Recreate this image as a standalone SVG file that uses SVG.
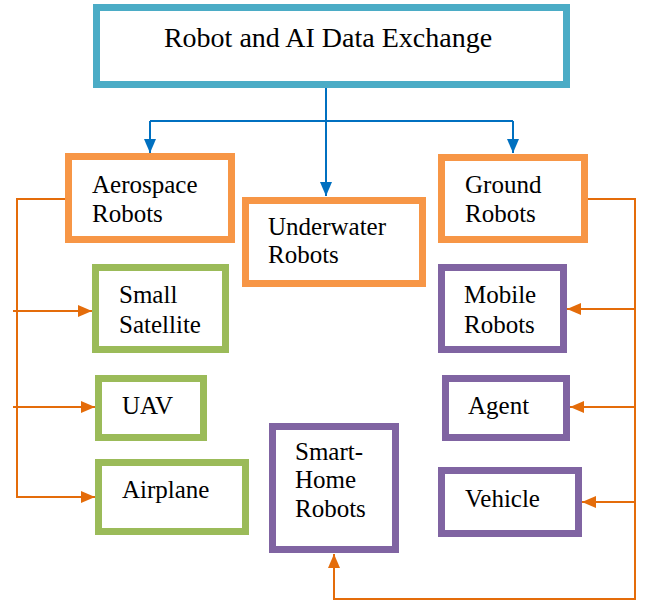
<svg xmlns="http://www.w3.org/2000/svg" width="645" height="602" viewBox="0 0 645 602">
<style>
text{font-family:'Liberation Serif','Times New Roman',Times,serif;font-size:25px;fill:#000}
.title{font-size:28px}
.box{fill:#fff;stroke-width:7}
.orange{stroke:#F79646}
.blue{stroke:#4BACC6}
.green{stroke:#9BBB59}
.purple{stroke:#8064A2}
.cb{fill:none;stroke:#0070C0;stroke-width:2}
.co{fill:none;stroke:#E46C0A;stroke-width:2}
</style>
<defs>
<marker id="ab" markerUnits="userSpaceOnUse" markerWidth="14" markerHeight="14" refX="14" refY="7" orient="auto">
<path d="M0,1 L14,7 L0,13 Z" fill="#0070C0"/>
</marker>
<marker id="ao" markerUnits="userSpaceOnUse" markerWidth="14" markerHeight="14" refX="14" refY="7" orient="auto">
<path d="M0,1 L14,7 L0,13 Z" fill="#E46C0A"/>
</marker>
</defs>
<rect width="645" height="602" fill="#fff"/>
<g id="connectors">
<path class="cb" d="M326,88 V121"/>
<path class="cb" d="M150,121 H513"/>
<path class="cb" d="M150,121 V153" marker-end="url(#ab)"/>
<path class="cb" d="M513,121 V153" marker-end="url(#ab)"/>
<path class="cb" d="M326,121 V196" marker-end="url(#ab)"/>
<path class="co" d="M65,199 H17 V497 H95" marker-end="url(#ao)"/>
<path class="co" d="M13,311 H92" marker-end="url(#ao)"/>
<path class="co" d="M13,407 H95" marker-end="url(#ao)"/>
<path class="co" d="M588,199 H635 V599 H334 V554" marker-end="url(#ao)"/>
<path class="co" d="M635,309 H567" marker-end="url(#ao)"/>
<path class="co" d="M635,407 H570" marker-end="url(#ao)"/>
<path class="co" d="M635,502 H582" marker-end="url(#ao)"/>
</g>
<g id="root">
<rect class="box blue" x="96.5" y="7.5" width="470" height="77"/>
<text class="title" x="328" y="47" text-anchor="middle">Robot and AI Data Exchange</text>
</g>
<g id="aerospace">
<rect class="box orange" x="68.5" y="156.5" width="163" height="83"/>
<text x="92" y="193">Aerospace</text>
<text x="92" y="222">Robots</text>
</g>
<g id="underwater">
<rect class="box orange" x="245.5" y="200.5" width="177" height="83"/>
<text x="268" y="235">Underwater</text>
<text x="268" y="263">Robots</text>
</g>
<g id="ground">
<rect class="box orange" x="441.5" y="157.5" width="143" height="82"/>
<text x="465" y="193">Ground</text>
<text x="465" y="222">Robots</text>
</g>
<g id="small-satellite">
<rect class="box green" x="95.5" y="267.5" width="130" height="82"/>
<text x="119" y="303">Small</text>
<text x="119" y="333">Satellite</text>
</g>
<g id="uav">
<rect class="box green" x="98.5" y="378.5" width="105" height="59"/>
<text x="122" y="414">UAV</text>
</g>
<g id="airplane">
<rect class="box green" x="98.5" y="462.5" width="147" height="69"/>
<text x="122" y="498">Airplane</text>
</g>
<g id="mobile-robots">
<rect class="box purple" x="441.5" y="267.5" width="122" height="82"/>
<text x="464" y="303">Mobile</text>
<text x="464" y="333">Robots</text>
</g>
<g id="agent">
<rect class="box purple" x="445.5" y="378.5" width="121" height="59"/>
<text x="468" y="414">Agent</text>
</g>
<g id="vehicle">
<rect class="box purple" x="441.5" y="470.5" width="137" height="63"/>
<text x="465" y="507">Vehicle</text>
</g>
<g id="smart-home">
<rect class="box purple" x="272.5" y="426.5" width="123" height="123"/>
<text x="295" y="460">Smart-</text>
<text x="295" y="488">Home</text>
<text x="295" y="517">Robots</text>
</g>
</svg>
